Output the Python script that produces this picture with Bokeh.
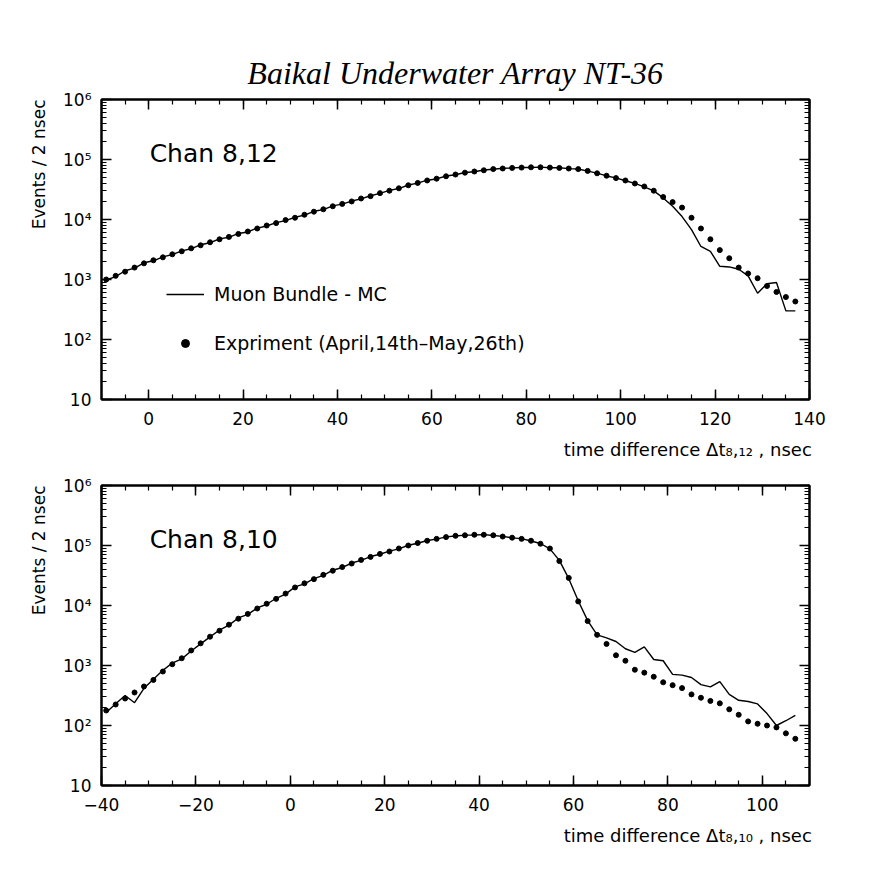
from bokeh.plotting import figure
from bokeh.models import (FixedTicker, LinearAxis, LogAxis, Label, Legend, LegendItem, Title,
                          CustomJSTickFormatter, SingleIntervalTicker, ColumnDataSource)
from bokeh.layouts import column
from bokeh.embed import file_html
from bokeh.resources import INLINE

TITLE = "Baikal Underwater Array NT-36"
Y_LABEL = "Events / 2 nsec"
X_LABEL_TOP = "time difference  \u0394t\u2088,\u2081\u2082 , nsec"
X_LABEL_BOT = "time difference  \u0394t\u2088,\u2081\u2080 , nsec"
PANEL_TOP = "Chan 8,12"
PANEL_BOT = "Chan 8,10"
LEG_MC = "Muon Bundle - MC"
LEG_EXP = "Expriment (April,14th\u2013May,26th)"

Y_TICKS = [10, 100, 1000, 10000, 100000, 1000000]

# ---- Chan 8,12 (top panel) ----
top_x = [-9, -7, -5, -3, -1, 1, 3, 5, 7, 9, 11, 13, 15, 17, 19, 21, 23, 25, 27, 29,
         31, 33, 35, 37, 39, 41, 43, 45, 47, 49, 51, 53, 55, 57, 59, 61, 63, 65, 67, 69,
         71, 73, 75, 77, 79, 81, 83, 85, 87, 89, 91, 93, 95, 97, 99, 101, 103, 105, 107, 109,
         111, 113, 115, 117, 119, 121, 123, 125, 127, 129, 131, 133, 135, 137]
top_exp = [1000, 1150, 1350, 1580, 1860, 2090, 2340, 2630, 2950, 3310, 3720, 4170, 4680, 5130, 5750, 6310, 7080, 7940, 8710, 9770,
           10700, 12000, 13500, 14800, 16600, 18200, 20000, 22400, 24500, 27500, 30200, 33100, 37200, 40700, 44700, 47900, 52500, 56200, 60300, 63100,
           66100, 69200, 70800, 72400, 73300, 74100, 74100, 73300, 72400, 70800, 69200, 64600, 58900, 53700, 49000, 44700, 39800, 35500, 30200, 23700,
           19500, 15800, 10700, 7080, 4680, 3090, 2260, 1580, 1260, 1050, 780, 620, 510, 430]
top_mc = [980, 1120, 1400, 1550, 1900, 2050, 2380, 2600, 3000, 3250, 3800, 4100, 4750, 5050, 5850, 6200, 7200, 7800, 8850, 9600,
          10900, 11800, 13700, 14600, 16900, 18000, 20300, 22100, 24900, 27200, 30600, 32800, 37600, 40300, 45200, 47400, 53000, 55700, 60800, 62600,
          66700, 68600, 71300, 72000, 73800, 73600, 74500, 73000, 72800, 70400, 69600, 64000, 59300, 53200, 49400, 44200, 40100, 35000, 30000, 22900,
          16600, 11200, 6760, 3550, 2950, 1660, 1620, 1480, 1150, 590, 850, 890, 300, 300]

# ---- Chan 8,10 (bottom panel) ----
bot_x = [-39, -37, -35, -33, -31, -29, -27, -25, -23, -21, -19, -17, -15, -13, -11, -9, -7, -5, -3, -1,
         1, 3, 5, 7, 9, 11, 13, 15, 17, 19, 21, 23, 25, 27, 29, 31, 33, 35, 37, 39,
         41, 43, 45, 47, 49, 51, 53, 55, 57, 59, 61, 63, 65, 67, 69, 71, 73, 75, 77, 79,
         81, 83, 85, 87, 89, 91, 93, 95, 97, 99, 101, 103, 105, 107]
bot_exp = [178, 224, 282, 355, 447, 575, 794, 1050, 1320, 1780, 2340, 3020, 3800, 4790, 6030, 7240, 8910, 10700, 12900, 15800,
           20000, 23400, 27500, 32400, 38000, 43700, 50100, 57500, 64600, 72400, 79400, 89100, 100000, 110000, 120000, 129000, 138000, 145000, 148000, 151000,
           151000, 148000, 141000, 135000, 129000, 120000, 107000, 89100, 55000, 28800, 11700, 5500, 3240, 2290, 1480, 1200, 850, 760, 650, 525,
           470, 420, 330, 290, 257, 234, 186, 151, 117, 107, 100, 93, 74, 60]
bot_mc = [165, 230, 316, 240, 417, 590, 830, 1100, 1290, 1740, 2290, 3000, 3900, 4700, 6200, 7100, 9100, 10500, 13200, 15500,
          20400, 23000, 28000, 31800, 38700, 43000, 51000, 56500, 65500, 71500, 80500, 88000, 101000, 109000, 121000, 128000, 139000, 144000, 149000, 150000,
          152000, 147000, 142000, 134000, 130000, 119000, 108000, 88000, 56500, 28000, 12000, 5600, 3240, 2880, 2510, 1900, 1660, 2040, 1260, 1200,
          710, 690, 630, 480, 440, 540, 330, 263, 251, 229, 158, 100, 120, 148]

FONT = "DejaVu Sans"

sup = """const sup = {"0":"\u2070","1":"\u00b9","2":"\u00b2","3":"\u00b3","4":"\u2074","5":"\u2075","6":"\u2076","7":"\u2077","8":"\u2078","9":"\u2079"};
const e = Math.round(Math.log10(tick));
if (e == 1) { return "10"; }
return "10" + String(e).split("").map(c => sup[c]).join("");"""

minor_y = [m * d for d in Y_TICKS[:-1] for m in range(2, 10)]


def style_axis(ax, labels=True):
    ax.axis_line_width = 2
    ax.axis_line_color = "black"
    ax.major_tick_in = 10
    ax.major_tick_out = 0
    ax.minor_tick_in = 5
    ax.minor_tick_out = 0
    ax.major_tick_line_width = 1.5
    ax.minor_tick_line_width = 1.2
    ax.major_label_text_font = FONT
    ax.major_label_text_font_size = "17px"
    ax.major_label_text_color = "black"
    ax.major_label_standoff = 10
    if not labels:
        ax.formatter = CustomJSTickFormatter(code="return '';")
        ax.major_label_standoff = 0


def make_panel(xr, h, top, bottom, xs, exp, mc, panel_text, xlabel, legend=False):
    p = figure(width=871, height=h, x_range=xr, y_range=(10, 1e6), y_axis_type="log",
               output_backend="svg", toolbar_location=None, title=None,
               min_border_left=101, min_border_right=62,
               min_border_top=top, min_border_bottom=bottom)
    p.grid.visible = False
    p.outline_line_color = "black"
    p.outline_line_width = 2
    p.background_fill_color = "white"
    p.border_fill_color = "white"

    p.yaxis[0].ticker = FixedTicker(ticks=Y_TICKS, minor_ticks=minor_y)
    p.yaxis[0].formatter = CustomJSTickFormatter(code=sup)
    style_axis(p.yaxis[0])
    p.xaxis[0].ticker = SingleIntervalTicker(interval=20, num_minor_ticks=4)
    style_axis(p.xaxis[0])
    p.xaxis[0].major_label_standoff = 12

    right = LogAxis(ticker=FixedTicker(ticks=Y_TICKS, minor_ticks=minor_y))
    style_axis(right, labels=False)
    p.add_layout(right, "right")
    above = LinearAxis(ticker=SingleIntervalTicker(interval=20, num_minor_ticks=4))
    style_axis(above, labels=False)
    p.add_layout(above, "above")

    src = ColumnDataSource(data=dict(x=xs, exp=exp, mc=mc))
    line = p.line("x", "mc", source=src, line_color="black", line_width=1.4)
    dots = p.scatter("x", "exp", source=src, marker="circle", size=5, color="black")

    p.add_layout(Title(text=Y_LABEL, align="right", standoff=24, text_font=FONT,
                       text_font_size="17px", text_font_style="normal",
                       text_color="black"), "left")
    p.add_layout(Title(text=xlabel, align="right", offset=-8, standoff=19, text_font=FONT,
                       text_font_size="18px", text_font_style="normal",
                       text_color="black"), "below")
    p.add_layout(Label(x=xr[0] + 10.2, y=126000, text=panel_text, text_font=FONT,
                       text_font_size="25px", text_align="left", text_baseline="alphabetic",
                       text_color="black"))

    if legend:
        leg = Legend(items=[LegendItem(label=LEG_MC, renderers=[line]),
                            LegendItem(label=LEG_EXP, renderers=[dots])],
                     location=(65, 45), glyph_width=38, glyph_height=20,
                     label_standoff=10, spacing=27, padding=0, margin=0,
                     border_line_color=None, background_fill_alpha=0,
                     label_text_font=FONT, label_text_font_size="19px",
                     label_text_color="black")
        p.add_layout(leg)
        p.add_layout(Title(text=TITLE, align="center", standoff=17, text_font="Liberation Serif",
                           text_font_style="italic", text_font_size="32px",
                           text_color="black"), "above")
    return p


p_top = make_panel((-10, 140), 475, 99, 76, top_x, top_exp, top_mc, PANEL_TOP, X_LABEL_TOP, legend=True)
p_bot = make_panel((-40, 110), 390, 10, 80, bot_x, bot_exp, bot_mc, PANEL_BOT, X_LABEL_BOT)

layout = column(p_top, p_bot, spacing=0)
open("out.html", "w").write(file_html(layout, INLINE))
